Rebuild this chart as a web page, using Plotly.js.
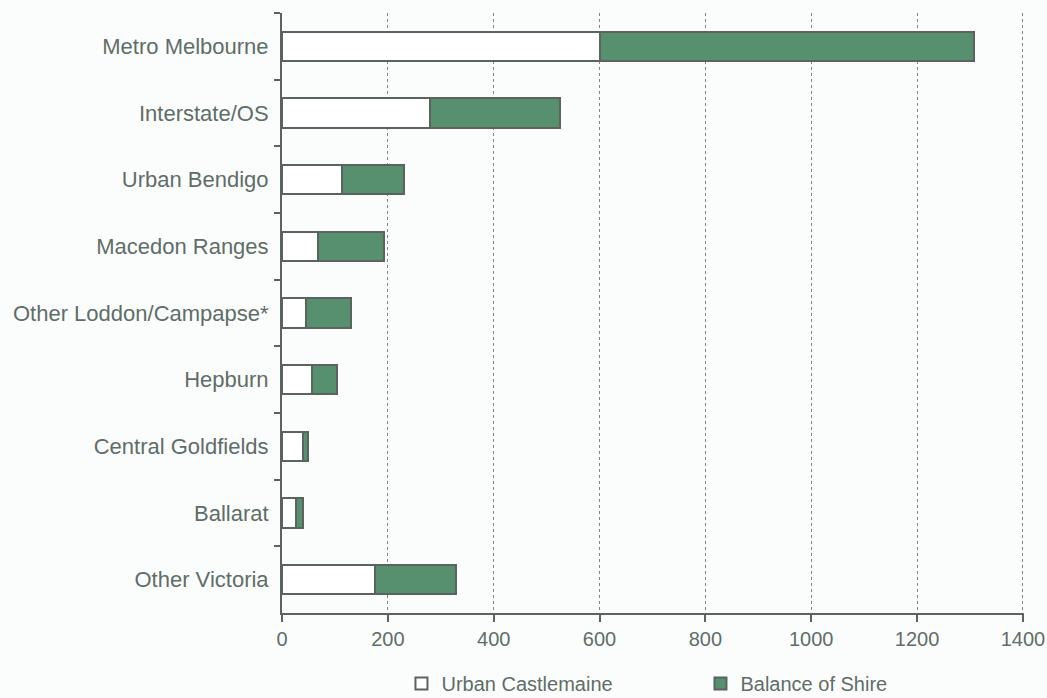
<!DOCTYPE html>
<html>
<head>
<meta charset="utf-8">
<script src="https://cdn.plot.ly/plotly-3.0.1.min.js"></script>
<style>html,body{margin:0;padding:0;background:#fbfdfc;}#chart{width:1047px;height:698px;}</style>
</head>
<body>
<div id="chart"></div>
<script>
const categories = ["Metro Melbourne", "Interstate/OS", "Urban Bendigo", "Macedon Ranges",
  "Other Loddon/Campapse*", "Hepburn", "Central Goldfields", "Ballarat", "Other Victoria"];
const urbanCastlemaine = [600, 279, 114, 68, 46, 57, 40, 27, 175];
const balanceOfShire = [707, 247, 117, 125, 85, 47, 10, 12, 153];
const xTicks = [0, 200, 400, 600, 800, 1000, 1200, 1400];

const textColor = "#5f6d68";
const lineColor = "#5b635f";

const traces = [
  {type: "bar", orientation: "h", name: "Urban Castlemaine", y: categories, x: urbanCastlemaine,
   marker: {color: "#ffffff", line: {color: lineColor, width: 2}}},
  {type: "bar", orientation: "h", name: "Balance of Shire", y: categories, x: balanceOfShire,
   marker: {color: "#56906f", line: {color: lineColor, width: 2}}}
];

const layout = {
  width: 1047, height: 698,
  paper_bgcolor: "#fbfdfc", plot_bgcolor: "#fbfdfc",
  barmode: "stack", bargap: 0.56,
  margin: {l: 282, r: 23, t: 13, b: 85, autoexpand: false},
  font: {family: "Liberation Sans, Arial, sans-serif", color: textColor},
  xaxis: {
    range: [0, 1402], tickvals: xTicks, ticktext: xTicks.map(String),
    showgrid: true, gridcolor: "#7f8783", griddash: "3px,3px", gridwidth: 1,
    showline: true, linecolor: lineColor, linewidth: 2,
    ticks: "outside", ticklen: 7, tickwidth: 2, tickcolor: lineColor,
    tickfont: {size: 20, color: textColor}, zeroline: false,
    ticklabeloverflow: "allow"
  },
  yaxis: {
    type: "category", categoryorder: "array", categoryarray: categories,
    autorange: "reversed",
    showline: true, linecolor: lineColor, linewidth: 2,
    ticks: "outside", tickson: "boundaries", ticklen: 6, tickwidth: 2, tickcolor: lineColor,
    tickfont: {size: 22, color: textColor}, showgrid: false, ticklabelstandoff: 7
  },
  showlegend: true,
  legend: {orientation: "h", x: 0.161, y: -0.085, xanchor: "left", yanchor: "top",
    entrywidth: 254, entrywidthmode: "pixels", traceorder: "normal",
    font: {size: 20, color: textColor}, itemwidth: 30, bgcolor: "rgba(0,0,0,0)"}
};

Plotly.newPlot("chart", traces, layout, {displayModeBar: false, staticPlot: true});
</script>
</body>
</html>
